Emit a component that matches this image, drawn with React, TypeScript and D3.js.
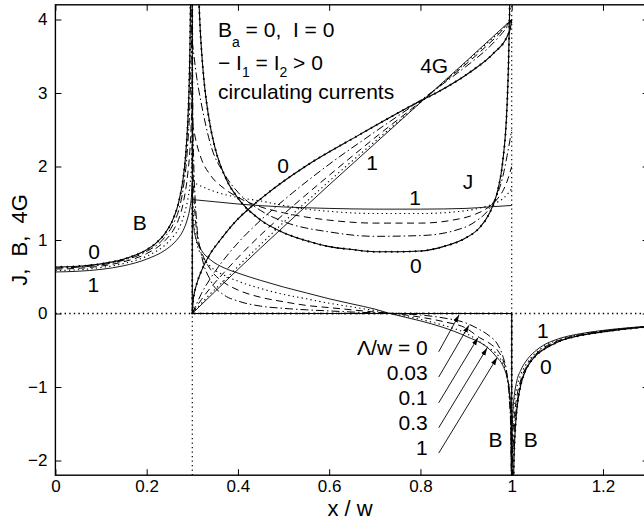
import React, { useEffect, useRef } from "react";
import * as d3 from "d3";

var width = 644;
var height = 524;
var margin = { left: 55.4, top: 4.8 };
var plotW = 593.2; // x / w from 0 to 1.3 (right edge is cut off by the picture)
var plotH = 470.4; // from -2.2 to 4.2

const xTicks = [0, 0.2, 0.4, 0.6, 0.8, 1, 1.2];
const xTickLabels = ["0", "0.2", "0.4", "0.6", "0.8", "1", "1.2"];
const yTicks = [-2, -1, 0, 1, 2, 3, 4];
const yTickLabels = ["\u22122", "\u22121", "0", "1", "2", "3", "4"];
const edges = [0.3, 1];

// current density J, one list per Lambda/w
const J_0 = [[0.3145, 4.25], [0.317, 3.91], [0.32, 3.6], [0.325, 3.21], [0.33, 2.93], [0.34, 2.53], [0.35, 2.25], [0.375, 1.82], [0.4, 1.57], [0.45, 1.27], [0.5, 1.1], [0.55, 0.99], [0.6, 0.91], [0.65, 0.87], [0.7, 0.84], [0.75, 0.84], [0.8, 0.85], [0.85, 0.91], [0.9, 1.03], [0.93, 1.17], [0.95, 1.35], [0.97, 1.69], [0.98, 2.05], [0.99, 2.86], [0.993, 3.4], [0.995, 4.0], [0.996, 4.3]];
const J_003 = [[0.3, 3.7], [0.31, 3.2], [0.32, 2.85], [0.34, 2.3], [0.37, 1.9], [0.4, 1.65], [0.45, 1.4], [0.5, 1.25], [0.6, 1.11], [0.7, 1.05], [0.8, 1.06], [0.87, 1.12], [0.92, 1.25], [0.95, 1.42], [0.97, 1.65], [0.98, 1.85], [0.99, 2.15], [1, 2.5]];
const J_01 = [[0.3, 2.6], [0.31, 2.3], [0.32, 2.1], [0.34, 1.88], [0.37, 1.7], [0.4, 1.58], [0.45, 1.45], [0.5, 1.37], [0.6, 1.27], [0.7, 1.23], [0.8, 1.23], [0.87, 1.27], [0.92, 1.35], [0.95, 1.45], [0.97, 1.57], [0.98, 1.66], [0.99, 1.8], [1, 2.0]];
const J_03 = [[0.3, 1.8], [0.31, 1.76], [0.32, 1.73], [0.34, 1.68], [0.37, 1.62], [0.4, 1.58], [0.45, 1.53], [0.5, 1.47], [0.55, 1.42], [0.6, 1.39], [0.7, 1.36], [0.8, 1.36], [0.87, 1.38], [0.92, 1.42], [0.95, 1.47], [0.97, 1.52], [0.98, 1.56], [0.99, 1.62], [1, 1.7]];
const J_1 = [[0.3, 1.55], [0.35, 1.52], [0.4, 1.49], [0.5, 1.45], [0.6, 1.43], [0.7, 1.42], [0.8, 1.42], [0.9, 1.43], [0.95, 1.45], [1, 1.47]];

// 4G
const G4_0 = [[0.3, 0], [0.302, 0.18], [0.305, 0.29], [0.31, 0.41], [0.32, 0.58], [0.34, 0.82], [0.36, 0.99], [0.39, 1.22], [0.46, 1.61], [0.55, 2.01], [0.66, 2.41], [0.79, 2.86], [0.84, 3.02], [0.91, 3.29], [0.96, 3.54], [0.99, 3.77], [0.997, 3.88], [1, 4]];
const G4_003 = [[0.3, 0], [0.31, 0.14], [0.32, 0.27], [0.34, 0.48], [0.37, 0.74], [0.4, 0.96], [0.45, 1.27], [0.5, 1.54], [0.6, 2.03], [0.7, 2.47], [0.8, 2.9], [0.87, 3.22], [0.92, 3.46], [0.95, 3.62], [0.97, 3.75], [0.98, 3.82], [0.99, 3.9], [1, 4]];
const G4_01 = [[0.3, 0], [0.31, 0.1], [0.32, 0.19], [0.34, 0.35], [0.37, 0.56], [0.4, 0.76], [0.45, 1.07], [0.5, 1.35], [0.6, 1.88], [0.7, 2.39], [0.8, 2.88], [0.87, 3.24], [0.92, 3.5], [0.95, 3.67], [0.97, 3.79], [0.98, 3.86], [0.99, 3.92], [1, 4]];
const G4_03 = [[0.3, 0], [0.31, 0.07], [0.32, 0.14], [0.34, 0.27], [0.37, 0.45], [0.4, 0.64], [0.45, 0.94], [0.5, 1.24], [0.55, 1.52], [0.6, 1.8], [0.7, 2.34], [0.8, 2.87], [0.87, 3.25], [0.92, 3.53], [0.95, 3.7], [0.97, 3.81], [0.98, 3.87], [0.99, 3.94], [1, 4]];
const G4_1 = [[0.3, 0], [0.35, 0.3], [0.4, 0.6], [0.5, 1.18], [0.6, 1.75], [0.7, 2.31], [0.8, 2.87], [0.9, 3.43], [1, 4]];

// field B (Lambda = 0 split at the film)
const B_0_gap = [[0, 0.633], [0.05, 0.643], [0.1, 0.675], [0.15, 0.74], [0.2, 0.867], [0.22, 0.955], [0.24, 1.087], [0.26, 1.315], [0.27, 1.51], [0.28, 1.84], [0.285, 2.12], [0.29, 2.59], [0.293, 3.08], [0.295, 3.65], [0.297, 4.7]];
const B_0_film = [[0.3, 4.7], [0.3, 0], [1, 0], [1, -2.5]];
const B_0_out = [[1.001, -4.45], [1.002, -3.15], [1.0041, -2.25], [1.005, -1.98], [1.0075, -1.61], [1.01, -1.39], [1.015, -1.13], [1.02, -0.97], [1.03, -0.78], [1.04, -0.67], [1.055, -0.56], [1.07, -0.49], [1.1, -0.39], [1.15, -0.3], [1.2, -0.25], [1.25, -0.21], [1.3, -0.18]];
const B_003 = [[0, 0.62], [0.05, 0.63], [0.1, 0.662], [0.15, 0.725], [0.2, 0.845], [0.24, 1.04], [0.26, 1.24], [0.27, 1.4], [0.28, 1.7], [0.29, 2.3], [0.295, 2.9], [0.298, 3.6], [0.3, 4.4], [0.3005, 3.5], [0.301, 2.9], [0.303, 2.1], [0.306, 1.6], [0.31, 1.2], [0.32, 0.8], [0.34, 0.45], [0.37, 0.25], [0.4, 0.17], [0.45, 0.1], [0.5, 0.07], [0.55, 0.05], [0.6, 0.035], [0.65, 0.02], [0.7, 0.01], [0.75, 0], [0.8, -0.02], [0.85, -0.06], [0.9, -0.13], [0.93, -0.22], [0.95, -0.3], [0.97, -0.43], [0.98, -0.57], [0.99, -0.85], [0.995, -1.2], [0.998, -1.6], [1, -2.35], [1.003, -1.85], [1.006, -1.55], [1.01, -1.3], [1.02, -0.94], [1.03, -0.77], [1.04, -0.66], [1.05, -0.58], [1.07, -0.48], [1.1, -0.385], [1.15, -0.297], [1.2, -0.244], [1.25, -0.207], [1.3, -0.18]];
const B_01 = [[0, 0.605], [0.05, 0.615], [0.1, 0.645], [0.15, 0.705], [0.2, 0.815], [0.24, 0.99], [0.26, 1.15], [0.27, 1.28], [0.28, 1.5], [0.29, 1.9], [0.295, 2.25], [0.298, 2.65], [0.3, 3.2], [0.301, 2.2], [0.303, 1.7], [0.306, 1.35], [0.31, 1.1], [0.32, 0.85], [0.34, 0.6], [0.37, 0.42], [0.4, 0.32], [0.45, 0.22], [0.5, 0.16], [0.55, 0.11], [0.6, 0.08], [0.65, 0.05], [0.7, 0.02], [0.74, 0], [0.8, -0.05], [0.85, -0.11], [0.9, -0.2], [0.93, -0.33], [0.95, -0.4], [0.97, -0.51], [0.98, -0.62], [0.99, -0.85], [0.995, -1.1], [0.998, -1.5], [1, -2.35], [1.002, -1.75], [1.005, -1.45], [1.01, -1.18], [1.02, -0.9], [1.03, -0.75], [1.04, -0.645], [1.05, -0.57], [1.07, -0.465], [1.1, -0.375], [1.15, -0.29], [1.2, -0.24], [1.25, -0.205], [1.3, -0.178]];
const B_03 = [[0, 0.585], [0.05, 0.595], [0.1, 0.625], [0.15, 0.68], [0.2, 0.78], [0.24, 0.93], [0.26, 1.06], [0.27, 1.15], [0.28, 1.3], [0.29, 1.55], [0.295, 1.75], [0.298, 1.98], [0.3, 2.3], [0.301, 1.6], [0.303, 1.3], [0.306, 1.1], [0.31, 0.95], [0.32, 0.8], [0.34, 0.64], [0.37, 0.52], [0.4, 0.44], [0.45, 0.34], [0.5, 0.26], [0.55, 0.2], [0.6, 0.14], [0.65, 0.09], [0.7, 0.04], [0.735, 0], [0.8, -0.08], [0.85, -0.16], [0.9, -0.27], [0.947, -0.46], [0.97, -0.57], [0.98, -0.67], [0.99, -0.86], [0.995, -1.05], [0.998, -1.4], [1, -2.35], [1.001, -1.7], [1.003, -1.4], [1.006, -1.2], [1.01, -1.04], [1.02, -0.83], [1.03, -0.71], [1.04, -0.62], [1.05, -0.55], [1.07, -0.45], [1.1, -0.365], [1.15, -0.283], [1.2, -0.236], [1.25, -0.201], [1.3, -0.175]];
const B_1 = [[0, 0.565], [0.05, 0.575], [0.1, 0.6], [0.15, 0.65], [0.2, 0.74], [0.24, 0.86], [0.26, 0.96], [0.27, 1.03], [0.28, 1.13], [0.29, 1.3], [0.295, 1.44], [0.298, 1.58], [0.3, 1.75], [0.301, 1.35], [0.303, 1.18], [0.306, 1.07], [0.31, 0.98], [0.32, 0.86], [0.34, 0.73], [0.37, 0.62], [0.4, 0.55], [0.45, 0.45], [0.5, 0.36], [0.55, 0.28], [0.6, 0.2], [0.65, 0.13], [0.7, 0.06], [0.733, 0], [0.8, -0.1], [0.85, -0.19], [0.9, -0.31], [0.95, -0.48], [0.968, -0.6], [0.98, -0.7], [0.99, -0.88], [0.995, -1.05], [0.998, -1.3], [1, -2.35], [1.001, -1.6], [1.003, -1.3], [1.006, -1.1], [1.01, -0.95], [1.02, -0.77], [1.03, -0.66], [1.04, -0.58], [1.05, -0.52], [1.07, -0.43], [1.1, -0.35], [1.15, -0.275], [1.2, -0.23], [1.25, -0.197], [1.3, -0.172]];

// labels on the curves: text, x/w, value
const curveLabels = [
  ["B", 0.185, 1.245], ["0", 0.085, 0.85], ["1", 0.083, 0.39],
  ["0", 0.499, 2.02], ["1", 0.694, 2.06], ["4G", 0.83, 3.37],
  ["1", 0.788, 1.585], ["J", 0.904, 1.8], ["0", 0.79, 0.66],
  ["1", 1.0685, -0.224], ["0", 1.075, -0.714],
  ["B", 0.9645, -1.72], ["B", 1.042, -1.72],
];
const lambdaLabels = ["\u039B/w = 0", "0.03", "0.1", "0.3", "1"];
const lambdaLabelY = [-0.565, -0.905, -1.245, -1.585, -1.925];
const arrowTails = [[0.84, -0.52], [0.84, -0.865], [0.84, -1.215], [0.84, -1.555], [0.84, -1.9]];
const arrowTips = [[0.8845, -0.02], [0.9064, -0.16], [0.926, -0.33], [0.946, -0.47], [0.968, -0.6]];

// line styles, in the order Lambda/w = 0, 0.03, 0.1, 0.3, 1
const styles = [
  { dash: null, width: 1.1, dots: true },
  { dash: "8,3,1.5,3", width: 1 },
  { dash: "7,4.5", width: 1 },
  { dash: "1.3,3.2", width: 1.1 },
  { dash: null, width: 0.9 },
];

const series = [
  { s: 0, pts: B_0_gap }, { s: 0, pts: B_0_film, straight: true }, { s: 0, pts: B_0_out },
  { s: 1, pts: B_003 }, { s: 2, pts: B_01 }, { s: 3, pts: B_03 }, { s: 4, pts: B_1 },
  { s: 0, pts: J_0 }, { s: 1, pts: J_003 }, { s: 2, pts: J_01 }, { s: 3, pts: J_03 }, { s: 4, pts: J_1 },
  { s: 0, pts: G4_0 }, { s: 1, pts: G4_003 }, { s: 2, pts: G4_01 }, { s: 3, pts: G4_03 }, { s: 4, pts: G4_1 },
];

const FONT = "'Liberation Sans', Arial, Helvetica, sans-serif";
const NB = "\u00A0";

const App = () => {
  const ref = useRef(null);

  function drawChart() {
    const svg = d3.select(ref.current);
    svg.selectAll("*").remove();

    const x = d3.scaleLinear().domain([0, 1.3]).range([margin.left, margin.left + plotW]);
    const y = d3.scaleLinear().domain([-2.2, 4.2]).range([margin.top + plotH, margin.top]);

    const defs = svg.append("defs");
    defs.append("clipPath").attr("id", "plot-clip")
      .append("rect").attr("x", x(0)).attr("y", y(4.2)).attr("width", plotW).attr("height", plotH);
    defs.append("marker").attr("id", "arrowhead")
      .attr("markerUnits", "userSpaceOnUse")
      .attr("markerWidth", 8).attr("markerHeight", 6)
      .attr("refX", 7.5).attr("refY", 3).attr("orient", "auto")
      .append("path").attr("d", "M0,0.6 L7.5,3 L0,5.4 Z").attr("fill", "#000");

    const plot = svg.append("g").attr("clip-path", "url(#plot-clip)");

    // dotted reference lines
    plot.append("line")
      .attr("x1", x(0)).attr("x2", x(1.3)).attr("y1", y(0)).attr("y2", y(0))
      .attr("stroke", "#000").attr("stroke-width", 1.4).attr("stroke-dasharray", "1.4,3.2");
    edges.forEach((e) => {
      plot.append("line")
        .attr("x1", x(e)).attr("x2", x(e)).attr("y1", y(-2.2)).attr("y2", y(4.2))
        .attr("stroke", "#000").attr("stroke-width", 1.2).attr("stroke-dasharray", "1.3,3.2");
    });

    const smooth = d3.line().x((d) => x(d[0])).y((d) => y(d[1])).curve(d3.curveMonotoneX);
    const straight = d3.line().x((d) => x(d[0])).y((d) => y(d[1]));

    series.forEach((ser) => {
      const st = styles[ser.s];
      const path = plot.append("path")
        .datum(ser.pts)
        .attr("d", ser.straight ? straight : smooth)
        .attr("fill", "none")
        .attr("stroke", "#000")
        .attr("stroke-width", st.width)
        .attr("stroke-dasharray", st.dash);
      if (st.dots) {
        const node = path.node();
        const len = node.getTotalLength();
        for (let l = 0; l <= len; l += 6) {
          const p = node.getPointAtLength(l);
          if (p.y < -5 || p.y > height + 5) continue;
          plot.append("circle").attr("cx", p.x).attr("cy", p.y).attr("r", 1.05).attr("fill", "#000");
        }
      }
    });

    // frame and ticks (inside, on all four sides)
    svg.append("rect")
      .attr("x", x(0)).attr("y", y(4.2)).attr("width", plotW).attr("height", plotH)
      .attr("fill", "none").attr("stroke", "#000").attr("stroke-width", 1.4);

    const axisStyle = (g, size) => {
      g.select(".domain").remove();
      g.selectAll("line").attr("stroke", "#000").attr("stroke-width", 1);
      g.selectAll("text").attr("font-family", FONT).attr("font-size", size).attr("fill", "#000");
    };

    svg.append("g").attr("transform", `translate(0,${y(-2.2)})`)
      .call(d3.axisBottom(x).tickValues(xTicks).tickFormat((d, i) => xTickLabels[i]).tickSizeInner(-6).tickSizeOuter(0).tickPadding(5))
      .call((g) => axisStyle(g, 17));
    svg.append("g").attr("transform", `translate(0,${y(4.2)})`)
      .call(d3.axisTop(x).tickValues(xTicks).tickFormat(() => "").tickSizeInner(-6).tickSizeOuter(0))
      .call((g) => axisStyle(g, 17));
    svg.append("g").attr("transform", `translate(${x(0)},0)`)
      .call(d3.axisLeft(y).tickValues(yTicks).tickFormat((d, i) => yTickLabels[i]).tickSizeInner(-6).tickSizeOuter(0).tickPadding(8))
      .call((g) => axisStyle(g, 17));
    svg.append("g").attr("transform", `translate(${x(1.3)},0)`)
      .call(d3.axisRight(y).tickValues(yTicks).tickFormat(() => "").tickSizeInner(-6).tickSizeOuter(0))
      .call((g) => axisStyle(g, 17));

    // axis titles
    svg.append("text")
      .attr("x", x(0) + plotW / 2 - 2).attr("y", 516)
      .attr("text-anchor", "middle").attr("font-family", FONT).attr("font-size", 22)
      .text(`x${NB}/${NB}w`);
    svg.append("text")
      .attr("transform", `translate(27,${y(4.2) + plotH / 2}) rotate(-90)`)
      .attr("text-anchor", "middle").attr("font-family", FONT).attr("font-size", 22)
      .text(`J,${NB} B,${NB} 4G`);

    // notes in the upper part
    const note = svg.append("g").attr("font-family", FONT).attr("font-size", 21);
    const nx = x(0.3563);
    const t1 = note.append("text").attr("x", nx).attr("y", y(3.762));
    t1.append("tspan").text("B");
    t1.append("tspan").attr("font-size", 14).attr("dy", 10).text("a");
    t1.append("tspan").attr("dy", -10).text(`${NB}=${NB}0,${NB}${NB}I${NB}=${NB}0`);
    const t2 = note.append("text").attr("x", nx).attr("y", y(3.313));
    t2.append("tspan").text(`\u2212${NB}I`);
    t2.append("tspan").attr("font-size", 14).attr("dy", 7).text("1");
    t2.append("tspan").attr("dy", -7).text(`${NB}=${NB}I`);
    t2.append("tspan").attr("font-size", 14).attr("dy", 7).text("2");
    t2.append("tspan").attr("dy", -7).text(`${NB}>${NB}0`);
    note.append("text").attr("x", nx).attr("y", y(2.918)).text("circulating currents");

    // curve labels
    svg.append("g").attr("font-family", FONT).attr("font-size", 21).attr("text-anchor", "middle")
      .selectAll("text").data(curveLabels).join("text")
      .attr("x", (d) => x(d[1])).attr("y", (d) => y(d[2])).attr("dy", "0.36em")
      .text((d) => d[0]);

    // Lambda/w legend with arrows
    svg.append("g").attr("font-family", FONT).attr("font-size", 21).attr("text-anchor", "end")
      .selectAll("text").data(lambdaLabels).join("text")
      .attr("x", x(0.816)).attr("y", (d, i) => y(lambdaLabelY[i]))
      .text((d) => d);
    svg.append("g").selectAll("line").data(arrowTails).join("line")
      .attr("x1", (d) => x(d[0])).attr("y1", (d) => y(d[1]))
      .attr("x2", (d, i) => x(arrowTips[i][0])).attr("y2", (d, i) => y(arrowTips[i][1]))
      .attr("stroke", "#000").attr("stroke-width", 0.9)
      .attr("marker-end", "url(#arrowhead)");
  }

  useEffect(() => {
    drawChart();
  }, []);

  return (
    <svg
      ref={ref}
      width={width}
      height={height}
      style={{ position: "absolute", left: 0, top: 0, display: "block", background: "#fff" }}
    ></svg>
  );
};

export default App;
